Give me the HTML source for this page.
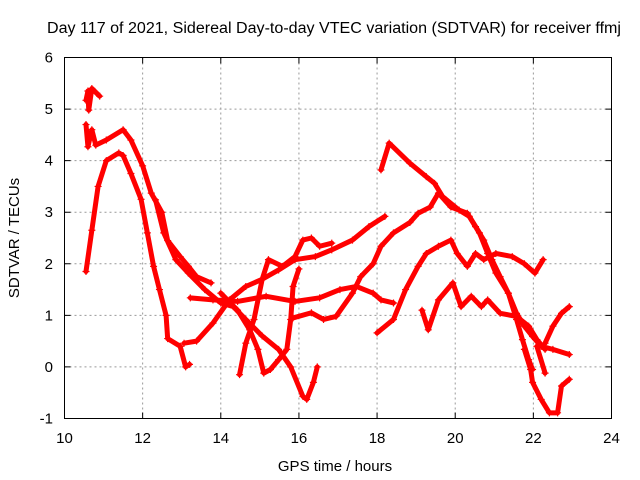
<!DOCTYPE html>
<html><head><meta charset="utf-8"><style>
html,body{margin:0;padding:0;background:#fff;}
svg{display:block;font-family:"Liberation Sans",sans-serif;}
</style></head><body>
<svg id="chart" width="640" height="480" viewBox="0 0 640 480">
<text x="334" y="33" text-anchor="middle" font-size="15.5" textLength="574" lengthAdjust="spacingAndGlyphs">Day 117 of 2021, Sidereal Day-to-day VTEC variation (SDTVAR) for receiver ffmj</text>
<text x="335" y="471" text-anchor="middle" font-size="15">GPS time / hours</text>
<text transform="translate(19,238) rotate(-90)" text-anchor="middle" font-size="15">SDTVAR / TECUs</text>
<g id="grid"></g>
<g id="ticks"></g>
<g id="series"></g>
<rect x="64.5" y="57.5" width="547" height="361" fill="none" stroke="#000" stroke-width="1"/>
</svg>
<script>
const xTicks = [10,12,14,16,18,20,22,24];
const yTicks = [-1,0,1,2,3,4,5,6];
const arcA = [[10.55,1.85],[10.7,2.65],[10.86,3.5],[11.07,4.0],[11.39,4.15],[11.5,4.1],[11.7,3.75],[11.96,3.25],[12.12,2.6],[12.28,1.95],[12.43,1.5],[12.6,1.0],[12.64,0.55],[12.96,0.4],[13.1,0.0],[13.2,0.05]];
const arcB = [[10.55,5.17],[10.6,5.35],[10.62,4.98],[10.7,5.4],[10.9,5.25]];
const arcC = [[10.55,4.7],[10.6,4.27],[10.7,4.6],[10.8,4.3],[11.07,4.4],[11.5,4.6],[11.7,4.4],[12.0,3.9],[12.22,3.37],[12.49,3.0],[12.64,2.45],[12.96,2.14],[13.17,1.95],[13.38,1.75],[13.75,1.63]];
const arcD = [[12.33,3.24],[12.54,2.6],[12.85,2.08],[13.17,1.82],[13.59,1.5],[14.0,1.24],[14.32,1.17],[14.64,0.92],[15.06,0.6],[15.48,0.34],[15.79,0.0],[16.1,-0.57],[16.2,-0.63],[16.37,-0.3],[16.47,0.0]];
const arcE = [[13.22,1.34],[13.8,1.3],[14.43,1.27],[15.16,1.37],[15.9,1.27],[16.53,1.34],[17.05,1.5],[17.47,1.56],[17.9,1.43],[18.1,1.3],[18.42,1.24]];
const arcF = [[13.06,0.46],[13.38,0.5],[13.8,0.85],[14.22,1.3],[14.64,1.56],[15.06,1.7],[15.48,1.88],[15.9,2.08],[16.42,2.14],[16.84,2.27],[17.37,2.46],[17.79,2.72],[18.2,2.92]];
const arcG = [[14.48,-0.15],[14.64,0.46],[14.85,0.92],[15.06,1.7],[15.22,2.08],[15.58,1.95],[15.9,2.14],[16.1,2.46],[16.32,2.5],[16.53,2.34],[16.84,2.4]];
const arcH = [[14.0,1.43],[14.43,1.1],[14.74,0.72],[14.95,0.34],[15.1,-0.12],[15.27,-0.05],[15.48,0.14],[15.69,0.34],[15.79,0.92],[15.85,1.56],[16.0,1.9]];
const arcI = [[15.85,0.95],[16.32,1.05],[16.63,0.92],[16.95,0.98],[17.37,1.43],[17.58,1.75],[17.9,2.0],[18.1,2.34],[18.42,2.6],[18.84,2.8],[19.05,2.98],[19.36,3.1],[19.57,3.37],[19.89,3.1],[20.31,2.98],[20.52,2.72],[20.73,2.46],[20.94,2.08],[21.15,1.75],[21.36,1.43],[21.57,1.04],[21.77,0.79],[21.98,0.59],[22.2,0.4],[22.5,0.34],[22.92,0.24]];
const arcJ = [[18.1,3.82],[18.31,4.34],[18.84,3.95],[19.26,3.69],[19.47,3.56],[19.68,3.3],[20.1,3.04],[20.36,2.92],[20.62,2.6],[20.83,2.2],[21.04,1.82],[21.36,1.43],[21.57,0.92],[21.72,0.53],[21.88,0.14],[21.98,-0.05]];
const arcK = [[18.0,0.66],[18.42,0.92],[18.73,1.5],[19.05,1.95],[19.26,2.2],[19.57,2.34],[19.89,2.46],[20.05,2.2],[20.31,1.95],[20.52,2.2],[20.73,2.08],[21.04,2.2],[21.46,2.14],[21.77,2.0],[22.04,1.82],[22.25,2.08]];
const arcL = [[19.15,1.1],[19.31,0.72],[19.57,1.3],[19.94,1.63],[20.15,1.17],[20.41,1.37],[20.67,1.17],[20.83,1.3],[21.15,1.04],[21.57,0.98],[21.88,0.79],[22.09,0.53],[22.3,0.34]];
const arcM = [[21.77,0.34],[21.93,-0.05],[21.98,-0.3],[22.2,-0.63],[22.41,-0.89],[22.62,-0.89],[22.72,-0.37],[22.92,-0.24]];
const arcN = [[22.09,0.4],[22.3,-0.12]];
const arcP = [[22.3,0.46],[22.5,0.79],[22.72,1.04],[22.92,1.17]];
const arcs = [arcA,arcB,arcC,arcD,arcE,arcF,arcG,arcH,arcI,arcJ,arcK,arcL,arcM,arcN,arcP];

const X0=64.5, X1=611.5, Y0=418.5, Y1=57.5;
const xScale = h => X0 + (h-10)/(24-10)*(X1-X0);
const yScale = v => Y0 - (v-(-1))/(6-(-1))*(Y0-Y1);
const NS='http://www.w3.org/2000/svg';
const grid=document.getElementById('grid'), ticks=document.getElementById('ticks'), series=document.getElementById('series');
function mk(tag, parent){const e=document.createElementNS(NS,tag);parent.appendChild(e);return e;}
xTicks.forEach(t=>{
  const x=xScale(t);
  if(t>10&&t<24){const g=mk('line',grid);g.setAttribute('x1',x);g.setAttribute('x2',x);g.setAttribute('y1',Y1);g.setAttribute('y2',Y0);g.setAttribute('stroke','#999');g.setAttribute('stroke-dasharray','2,3');
  
  }
  const tk=mk('path',ticks);tk.setAttribute('d',`M${x},${Y0}v-6M${x},${Y1}v6`);tk.setAttribute('stroke','#000');
  
  
  const l=mk('text',ticks);l.setAttribute('x',x);l.setAttribute('y',443);l.setAttribute('text-anchor','middle');l.setAttribute('font-size','15');l.textContent=t;
  
  
});
yTicks.forEach(t=>{
  const y=yScale(t);
  if(t>-1&&t<6){const g=mk('line',grid);g.setAttribute('x1',X0);g.setAttribute('x2',X1);g.setAttribute('y1',y);g.setAttribute('y2',y);g.setAttribute('stroke','#999');g.setAttribute('stroke-dasharray','2,3');
  
  }
  const tk=mk('path',ticks);tk.setAttribute('d',`M${X0},${y}h6M${X1},${y}h-6`);tk.setAttribute('stroke','#000');
  
  
  const l=mk('text',ticks);l.setAttribute('x',53);l.setAttribute('y',y+5);l.setAttribute('text-anchor','end');l.setAttribute('font-size','15');l.textContent=t;
  
  
});
arcs.forEach(arc=>{
  const pl=mk('polyline',series);
  pl.setAttribute('points',arc.map(p=>xScale(p[0])+','+yScale(p[1])).join(' '));
  pl.setAttribute('fill','none');pl.setAttribute('stroke','#f00');pl.setAttribute('stroke-width','5');pl.setAttribute('stroke-linejoin','round');pl.setAttribute('stroke-linecap','round');
  
  
  arc.forEach(p=>{
    const x=xScale(p[0]), y=yScale(p[1]);
    const m=mk('path',series);
    m.setAttribute('d',`M${x-3.5},${y}h7M${x},${y-3.5}v7`);
    m.setAttribute('stroke','#f00');m.setAttribute('stroke-width','1.2');
    
    
  });
});
</script>
</body></html>
